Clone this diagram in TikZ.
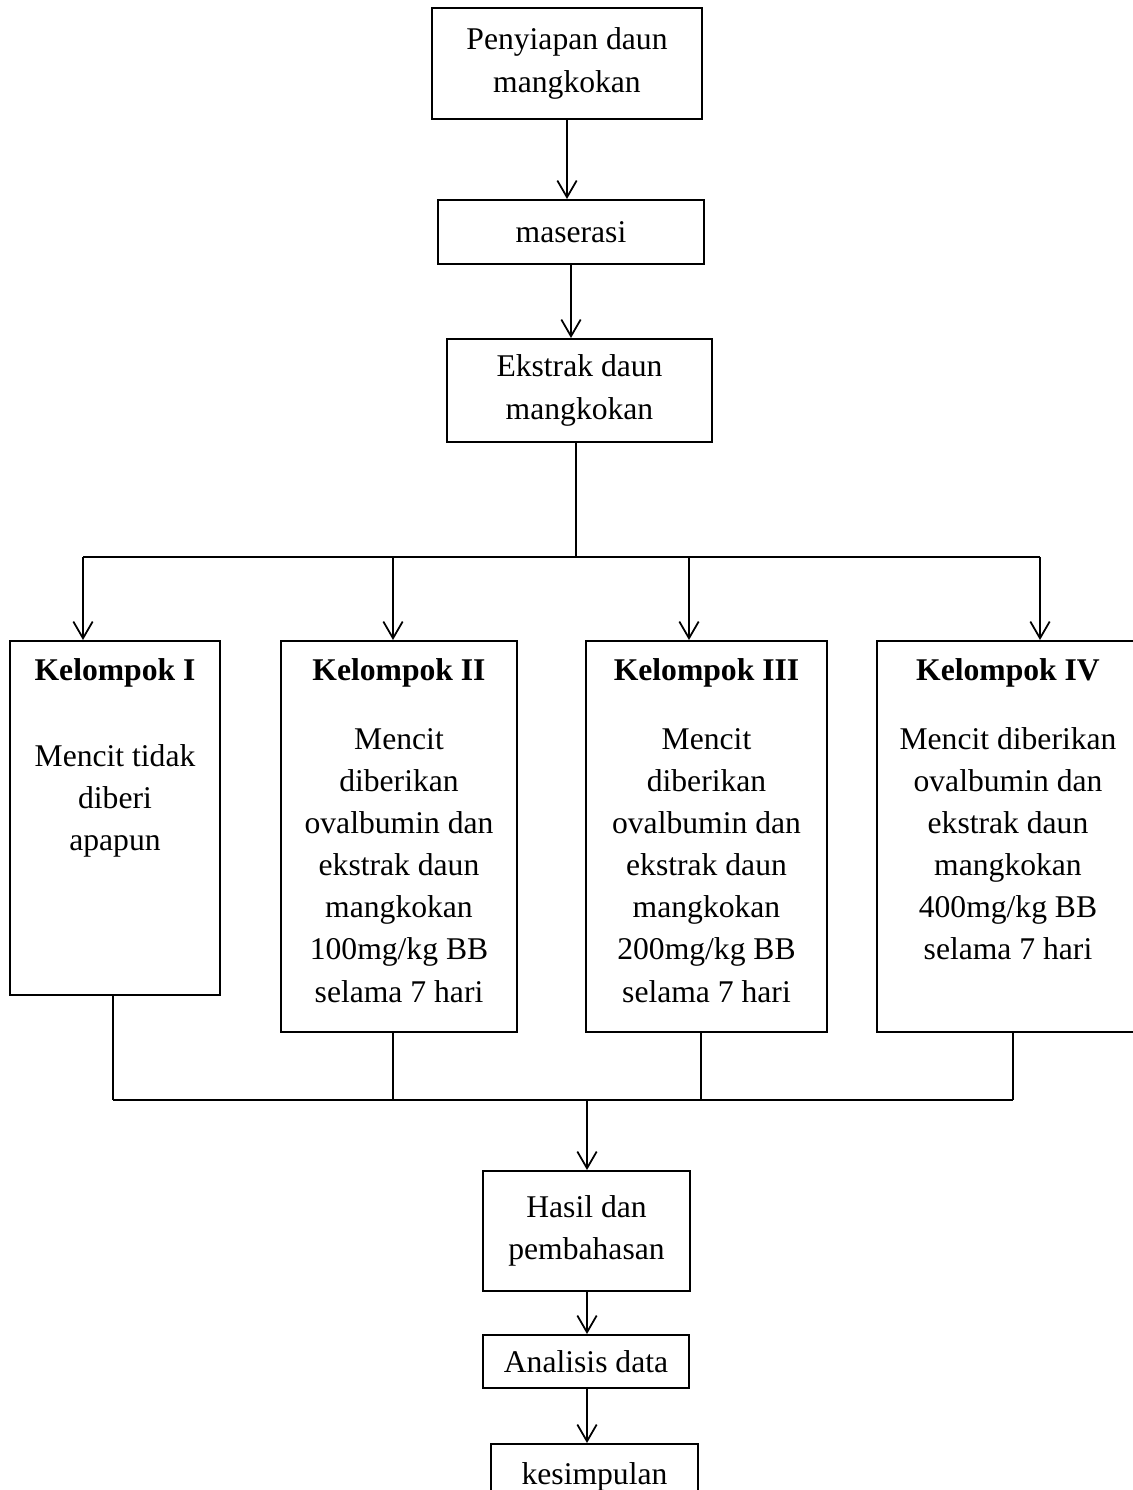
\documentclass[tikz,border=0pt]{standalone}
\usepackage{fontspec}
\setmainfont{Liberation Serif}
\usetikzlibrary{arrows.meta}
\tikzset{basic/.style={draw,line width=1pt,anchor=north,align=center,
                       font=\fontsize{18}{24}\selectfont}}
\tikzset{process/.style={basic,inner sep=2pt}}
\tikzset{groups/.style={basic,inner sep=0pt}}
\newcommand{\grouptext}[3]{\parbox[c][#2][t]{#1}{\centering
                           \rule{0pt}{0.8cm}#3}}

\begin{document}
\begin{tikzpicture}[x=0.02cm,y=-0.02cm,line width=1pt,
                    >={Straight Barb[length=9.5pt,width=11pt]}]
    \useasboundingbox (0,0) rectangle (1132,1490);
    % preparation
    \node[process,minimum width=5.4cm,minimum height=2.22cm] (prep) at (567,7)
         {Penyiapan daun\\mangkokan};
    \node[process,minimum width=5.32cm,minimum height=1.28cm] (mas) at (571,199)
         {maserasi};
    \node[process,minimum width=5.3cm,minimum height=2.06cm] (ekstrak) at (579.5,338)
         {Ekstrak daun\\mangkokan};
    \draw[->] (prep.south) -- (prep.south |- mas.north);
    \draw[->] (mas.south) -- (mas.south |- ekstrak.north);
    % groups
    \node[groups] (g1) at (115,640) {\grouptext{4.2cm}{7.08cm}{%
          \textbf{Kelompok I}\\[0.86cm]Mencit tidak\\diberi\\apapun}};
    \node[groups] (g2) at (399,640) {\grouptext{4.72cm}{7.82cm}{%
          \textbf{Kelompok II}\\[0.52cm]Mencit\\diberikan\\ovalbumin dan\\
          ekstrak daun\\mangkokan\\100mg/kg BB\\selama 7 hari}};
    \node[groups] (g3) at (706.5,640) {\grouptext{4.82cm}{7.82cm}{%
          \textbf{Kelompok III}\\[0.52cm]Mencit\\diberikan\\ovalbumin dan\\
          ekstrak daun\\mangkokan\\200mg/kg BB\\selama 7 hari}};
    \node[groups] (g4) at (1008,640) {\grouptext{5.24cm}{7.82cm}{%
          \textbf{Kelompok IV}\\[0.52cm]Mencit diberikan\\ovalbumin dan\\
          ekstrak daun\\mangkokan\\400mg/kg BB\\selama 7 hari}};
    \coordinate (split) at (576,557);
    \draw (ekstrak.south -| split) -- (split);
    \foreach \x [count=\i] in {83,393,689,1040}{%
          \coordinate (t\i) at (\x,557);
          \draw[->] (t\i) -- (t\i |- g\i.north);
        }
    \draw (t1) -- (t4);
    % results
    \foreach \x [count=\i] in {113,393,701,1013}{%
          \coordinate (b\i) at (\x,1100);
          \draw (b\i |- g\i.south) -- (b\i);
        }
    \draw (b1) -- (b4);
    \coordinate (merge) at (587,1100);
    \node[process,minimum width=4.14cm,minimum height=2.4cm] (hasil) at (586.5,1170)
         {Hasil dan\\pembahasan};
    \node[process,minimum width=4.12cm,minimum height=1.06cm] (analisis) at (586,1334)
         {Analisis data};
    \node[process,minimum width=4.14cm,minimum height=1.32cm] (kesimpulan) at (594.5,1443)
         {kesimpulan};
    \draw[->] (merge) -- (merge |- hasil.north);
    \draw[->] (merge |- hasil.south) -- (merge |- analisis.north);
    \draw[->] (merge |- analisis.south) -- (merge |- kesimpulan.north);
\end{tikzpicture}
\end{document}
